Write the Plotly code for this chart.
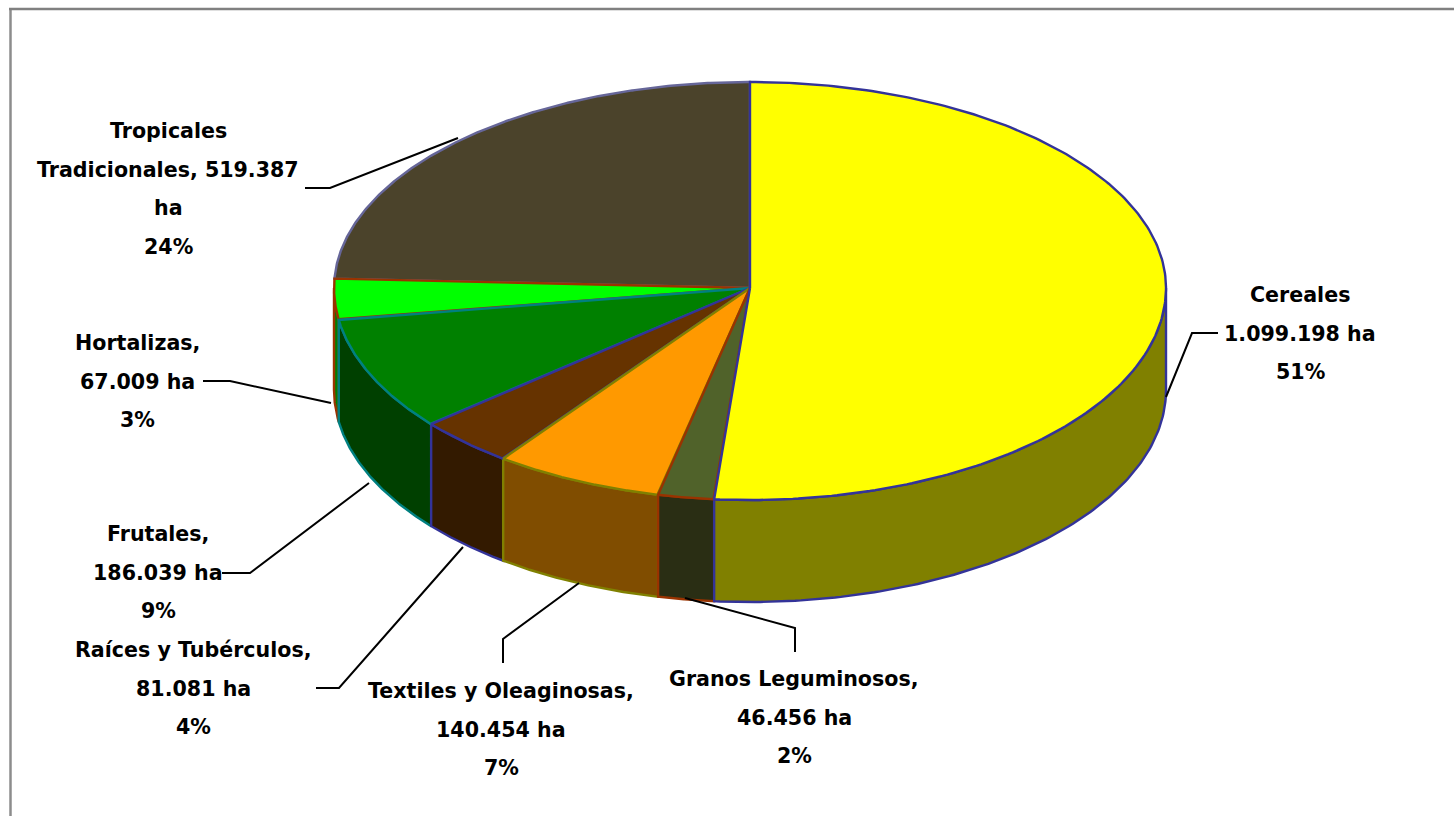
import numpy as np
import plotly.graph_objects as go

# ---- data ----
categories = ["Cereales", "Granos Leguminosos", "Textiles y Oleaginosas", "Raíces y Tubérculos",
              "Frutales", "Hortalizas", "Tropicales Tradicionales"]
hectares = [1099198, 46456, 140454, 81081, 186039, 67009, 519387]
label_lines = [
    ["Cereales", "1.099.198 ha", "51%"],
    ["Granos Leguminosos,", "46.456 ha", "2%"],
    ["Textiles y Oleaginosas,", "140.454 ha", "7%"],
    ["Raíces y Tubérculos,", "81.081 ha", "4%"],
    ["Frutales,", "186.039 ha", "9%"],
    ["Hortalizas,", "67.009 ha", "3%"],
    ["Tropicales", "Tradicionales, 519.387", "ha", "24%"],
]

# ---- styles / layout ----
top_colors = ["#FFFF00", "#50622A", "#FF9900", "#663300", "#008000", "#00FF00", "#4B432B"]
wall_colors = ["#808000", "#2A2E14", "#804D00", "#331A00", "#004000", "#008000", "#26221A"]
edge_colors = ["#333399", "#993300", "#808000", "#333399", "#008080", "#993300", "#666699"]
label_anchor = [(1300, 295), (794, 679), (501, 691), (193, 650), (158, 534), (137, 343), (168, 131)]
LINE_PITCH = 38.7
leaders = [
    [(1218, 333), (1192, 333), (1166, 397)],
    [(795, 652), (795, 628), (685, 598)],
    [(503, 663), (503, 639), (579, 583)],
    [(316, 688), (339, 688), (463, 547)],
    [(222, 573), (250, 573), (369, 483)],
    [(203, 381), (230, 381), (331, 403)],
    [(305, 188), (330, 188), (458, 138)],
]
CX, CY, RX, RY_BACK, RY_FRONT, DEPTH = 750, 288, 416, 206, 212, 102
FONT = "DejaVu Sans"


def ellipse(theta, dy=0.0):
    c = np.cos(theta)
    ry = np.where(c > 0, RY_BACK, RY_FRONT)
    return CX + RX * np.sin(theta), CY - ry * c + dy


fractions = np.array(hectares) / np.sum(hectares)
edges = np.concatenate([[0.0], np.cumsum(fractions)]) * 2 * np.pi
order = list(range(len(hectares)))[::-1]

fig = go.Figure()

# side walls (only the front half of the rim is visible)
for i in order:
    a, b = max(edges[i], np.pi / 2), min(edges[i + 1], 3 * np.pi / 2)
    if a >= b:
        continue
    t = np.linspace(a, b, 120)
    x1, y1 = ellipse(t)
    x2, y2 = ellipse(t[::-1], DEPTH)
    fig.add_trace(go.Scatter(
        x=np.concatenate([x1, x2, x1[:1]]), y=np.concatenate([y1, y2, y1[:1]]),
        mode="lines", fill="toself", fillcolor=wall_colors[i],
        line=dict(color=edge_colors[i], width=2.4), hoverinfo="skip", showlegend=False))

# top faces
for i in order:
    t = np.linspace(edges[i], edges[i + 1], 240)
    x, y = ellipse(t)
    fig.add_trace(go.Scatter(
        x=np.concatenate([[CX], x, [CX]]), y=np.concatenate([[CY], y, [CY]]),
        mode="lines", fill="toself", fillcolor=top_colors[i],
        line=dict(color=edge_colors[i], width=2.4), name=categories[i],
        hoverinfo="name", showlegend=False))

# leader lines
for pts in leaders:
    fig.add_trace(go.Scatter(
        x=[p[0] for p in pts], y=[p[1] for p in pts], mode="lines",
        line=dict(color="#000000", width=2), hoverinfo="skip", showlegend=False))

# labels
annotations = []
for lines, (ax, ay) in zip(label_lines, label_anchor):
    for k, s in enumerate(lines):
        annotations.append(dict(
            x=ax, y=ay + k * LINE_PITCH, text=f"<b>{s}</b>", showarrow=False,
            xanchor="center", yanchor="middle",
            font=dict(family=FONT, size=20.6, color="#000000")))

fig.update_layout(
    width=1454, height=816, margin=dict(l=0, r=0, t=0, b=0),
    paper_bgcolor="#FFFFFF", plot_bgcolor="#FFFFFF", showlegend=False,
    xaxis=dict(range=[0, 1454], visible=False, fixedrange=True),
    yaxis=dict(range=[816, 0], visible=False, fixedrange=True),
    annotations=annotations,
    shapes=[
        dict(type="line", x0=10.5, x1=10.5, y0=8, y1=816, line=dict(color="#8C8C8C", width=2.5)),
        dict(type="line", x0=9, x1=1454, y0=9, y1=9, line=dict(color="#808080", width=2.5)),
    ],
)

fig.write_html("out.html", config={"displayModeBar": False},
               post_script="document.body.style.margin='0';document.body.style.overflow='hidden';")
